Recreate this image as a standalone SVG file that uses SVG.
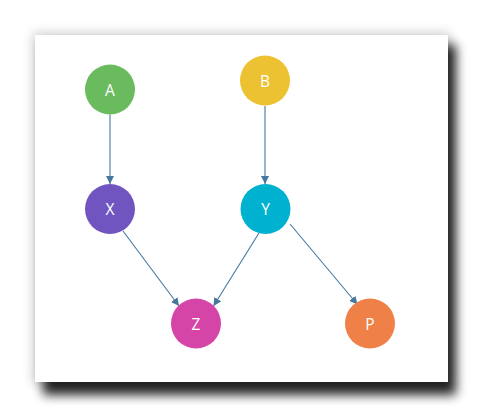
<svg xmlns="http://www.w3.org/2000/svg" width="483" height="417" viewBox="0 0 483 417">
<defs>
<filter id="sh" x="-20%" y="-20%" width="140%" height="140%">
<feGaussianBlur stdDeviation="5.5"/>
</filter>
<filter id="glow" x="-20%" y="-20%" width="140%" height="140%">
<feGaussianBlur stdDeviation="6"/>
</filter>
<marker id="arr" viewBox="0 0 10 10" refX="10" refY="5" markerWidth="8" markerHeight="8" markerUnits="userSpaceOnUse" orient="auto">
<path d="M0,0 L10,5 L0,10 z" fill="#44789f"/>
</marker>
<style>
.edge{stroke:#44789f;stroke-width:1.1;fill:none;marker-end:url(#arr)}
.lbl{fill:#fff;font-family:"Open Sans","Liberation Sans",sans-serif;font-size:15.5px;text-anchor:middle;dominant-baseline:central}
</style>
</defs>
<rect x="0" y="0" width="483" height="417" fill="#fff"/>
<rect x="33" y="33" width="417" height="351" fill="#000" opacity="0.2" filter="url(#glow)"/>
<rect x="43" y="45" width="413" height="350" fill="#000" opacity="0.85" filter="url(#sh)"/>
<rect x="35" y="35" width="413" height="347" fill="#fff"/>
<g id="connectors">
<line class="edge" x1="110" y1="114.5" x2="110" y2="184"/>
<line class="edge" x1="265" y1="106" x2="265" y2="184"/>
<line class="edge" x1="123" y1="231" x2="179" y2="306"/>
<line class="edge" x1="259" y1="233" x2="213.5" y2="306"/>
<line class="edge" x1="290" y1="224" x2="357.5" y2="304.5"/>
</g>
<g id="A"><circle cx="110" cy="89.5" r="25" fill="#6aba5e"/><text class="lbl" x="110" y="89.5">A</text></g>
<g id="B"><circle cx="265" cy="80.5" r="25" fill="#ecc232"/><text class="lbl" x="265" y="80.5">B</text></g>
<g id="X"><circle cx="110" cy="209" r="25" fill="#7055c0"/><text class="lbl" x="110" y="209">X</text></g>
<g id="Y"><circle cx="265.5" cy="209" r="25" fill="#00b2d0"/><text class="lbl" x="265.5" y="209">Y</text></g>
<g id="Z"><circle cx="196" cy="323.5" r="25" fill="#d545a8"/><text class="lbl" x="196" y="323.5">Z</text></g>
<g id="P"><circle cx="370" cy="323.5" r="25" fill="#ef8048"/><text class="lbl" x="370" y="323.5">P</text></g>
</svg>
